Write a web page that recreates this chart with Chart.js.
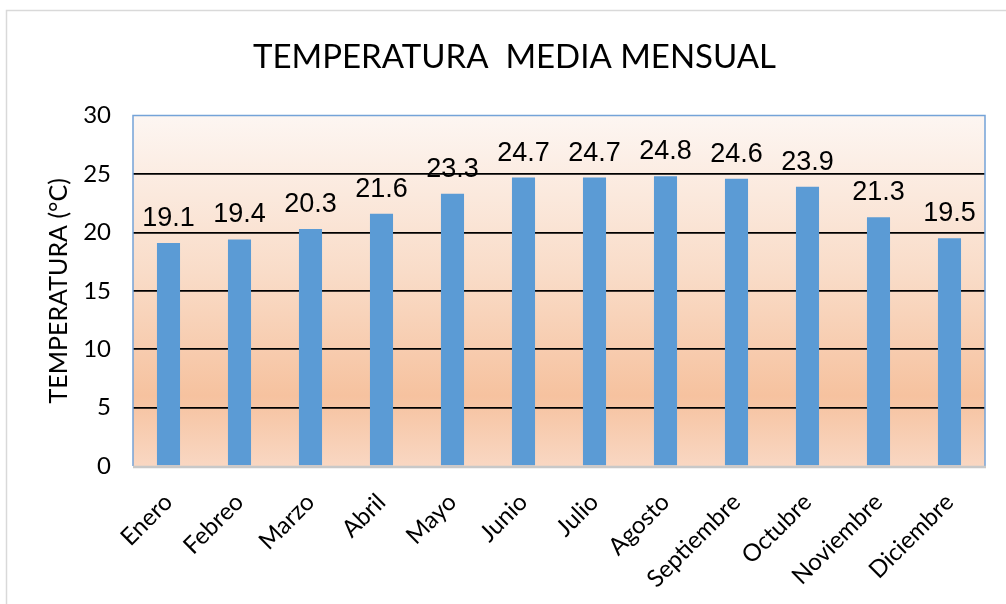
<!DOCTYPE html>
<html>
<head>
<meta charset="utf-8">
<script src="https://cdn.jsdelivr.net/npm/chart.js@4"></script>
<style>
  html, body { margin: 0; padding: 0; background: #fff; }
  #wrap { width: 1006px; height: 604px; position: relative; }
</style>
</head>
<body>
<div id="wrap"><canvas id="tempChart" width="1006" height="604"></canvas></div>
<script>
const months = ['Enero', 'Febreo', 'Marzo', 'Abril', 'Mayo', 'Junio', 'Julio', 'Agosto', 'Septiembre', 'Octubre', 'Noviembre', 'Diciembre'];
const temps = [19.1, 19.4, 20.3, 21.6, 23.3, 24.7, 24.7, 24.8, 24.6, 23.9, 21.3, 19.5];
const yTicks = [0, 5, 10, 15, 20, 25, 30];

const calibri = 'Lato, "Open Sans", sans-serif';

// background gradient, frame and plot borders
const framePlugin = {
  id: 'frame',
  beforeDraw(chart) {
    const c = chart.ctx, a = chart.chartArea;
    c.save();
    c.strokeStyle = '#d9d9d9';
    c.lineWidth = 1.5;
    c.strokeRect(6.5, 10.5, 1100, 700);
    const g = c.createLinearGradient(0, a.top, 0, a.bottom);
    g.addColorStop(0, '#fdf6f2');
    g.addColorStop(0.45, '#f9dcc8');
    g.addColorStop(0.8, '#f6c29f');
    g.addColorStop(1, '#f9d7c2');
    c.fillStyle = g;
    c.fillRect(a.left, a.top, a.right - a.left, a.bottom - a.top);
    c.restore();
  },
  afterDatasetsDraw(chart) {
    const c = chart.ctx, a = chart.chartArea;
    c.save();
    c.strokeStyle = '#74a3d8';
    c.lineWidth = 1.5;
    c.beginPath();
    c.moveTo(a.left, a.bottom);
    c.lineTo(a.left, a.top);
    c.lineTo(a.right, a.top);
    c.lineTo(a.right, a.bottom);
    c.stroke();
    c.strokeStyle = '#c8c8c8';
    c.lineWidth = 2.5;
    c.beginPath();
    c.moveTo(a.left, a.bottom + 1);
    c.lineTo(a.right + 1, a.bottom + 1);
    c.stroke();
    // value labels over bars
    c.fillStyle = '#000';
    c.font = '27px "Liberation Sans", Arial, sans-serif';
    c.textAlign = 'center';
    c.textBaseline = 'alphabetic';
    chart.getDatasetMeta(0).data.forEach((bar, i) => {
      c.fillText(temps[i].toFixed(1), bar.x, bar.y - 17);
    });
    c.restore();
  }
};

new Chart(document.getElementById('tempChart'), {
  type: 'bar',
  data: {
    labels: months,
    datasets: [{
      data: temps,
      backgroundColor: '#5b9bd5',
      borderWidth: 0,
      categoryPercentage: 1,
      barPercentage: 0.325
    }]
  },
  options: {
    responsive: false,
    animation: false,
    layout: { padding: { left: 44, right: 21, top: 0, bottom: 0 } },
    plugins: {
      legend: { display: false },
      tooltip: { enabled: false },
      title: {
        display: true,
        text: 'TEMPERATURA  MEDIA MENSUAL',
        color: '#000',
        font: { family: calibri, size: 33, weight: 'normal' },
        padding: { top: 38, bottom: 38 }
      }
    },
    scales: {
      x: {
        grid: { display: false },
        border: { display: false },
        ticks: {
          color: '#000',
          font: { family: calibri, size: 24 },
          minRotation: 45,
          maxRotation: 45,
          padding: 14
        },
        afterFit(s) { s.height = 138; }
      },
      y: {
        min: 0,
        max: 30,
        afterBuildTicks(s) { s.ticks = yTicks.map(v => ({ value: v })); },
        border: { display: false },
        grid: {
          color: ctx => (ctx.tick.value === 0 || ctx.tick.value === 30) ? 'rgba(0,0,0,0)' : '#000',
          lineWidth: 1.75,
          drawTicks: false
        },
        ticks: {
          color: '#000',
          font: { family: calibri, size: 24 },
          padding: 22
        },
        title: {
          display: true,
          text: 'TEMPERATURA (°C)',
          color: '#000',
          font: { family: calibri, size: 25, weight: 'normal' },
          padding: { top: 0, bottom: 4 }
        },
        afterFit(s) { s.width = 89; }
      }
    }
  },
  plugins: [framePlugin]
});
</script>
</body>
</html>
